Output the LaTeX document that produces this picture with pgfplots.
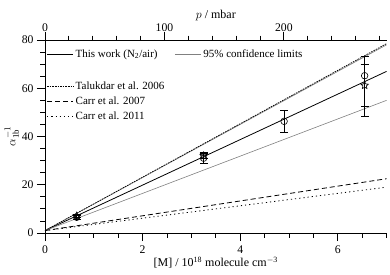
\documentclass[border=0pt]{standalone}
\usepackage{fontspec}
\setmainfont{Liberation Serif}
\usepackage{pgfplots}
\pgfplotsset{compat=1.18}
\usetikzlibrary{plotmarks}
\pgfdeclareplotmark{ostar}{%
  \pgfpathmoveto{\pgfpointpolar{90}{\pgfplotmarksize}}%
  \pgfpathlineto{\pgfpointpolar{126}{0.45\pgfplotmarksize}}%
  \pgfpathlineto{\pgfpointpolar{162}{\pgfplotmarksize}}%
  \pgfpathlineto{\pgfpointpolar{198}{0.45\pgfplotmarksize}}%
  \pgfpathlineto{\pgfpointpolar{234}{\pgfplotmarksize}}%
  \pgfpathlineto{\pgfpointpolar{270}{0.45\pgfplotmarksize}}%
  \pgfpathlineto{\pgfpointpolar{306}{\pgfplotmarksize}}%
  \pgfpathlineto{\pgfpointpolar{342}{0.45\pgfplotmarksize}}%
  \pgfpathlineto{\pgfpointpolar{18}{\pgfplotmarksize}}%
  \pgfpathlineto{\pgfpointpolar{54}{0.45\pgfplotmarksize}}%
  \pgfpathclose\pgfusepathqstroke}
\pgfplotsset{
  base/.style={
    width=341.6pt, height=193pt, scale only axis,
    xmin=0, xmax=7, ymin=0, ymax=80,
    font=\fontsize{12}{14}\selectfont,
    tick label style={font=\fontsize{11.7}{14}\selectfont},
    /pgf/number format/assume math mode=true,
    tick align=outside,
    major tick length=8pt, minor tick length=4.5pt,
    every tick/.style={black, line width=0.8pt},
    axis line style={line width=0.8pt},
    legend style={draw=none, fill=none, font=\fontsize{11}{12}\selectfont,
      anchor=north west, inner sep=0pt, outer sep=0pt},
    legend cell align=left,
    legend image code/.code={\draw[##1] (0cm,0cm) -- (0.92cm,0cm);},
  }
}
\begin{document}
\begin{tikzpicture}
\begin{axis}[base,
  axis x line*=bottom, axis y line*=left,
  xtick={0,2,4,6}, minor xtick={0.5,1,...,7},
  ytick={0,20,40,60,80}, minor ytick={5,10,...,75},
  xticklabel style={yshift=-1.5pt},
  xlabel={{[}M{]} / 10\textsuperscript{18} molecule cm\textsuperscript{$-$3}},
  ylabel={\fontsize{12.5}{14}\selectfont$\alpha_{\mathrm{1b}}^{-1}$},
  xlabel style={yshift=4pt},
  ylabel style={yshift=-4pt},
  legend columns=2,
  legend style={at={(0.005,0.962)}, /tikz/every even column/.append style={column sep=15pt}},
]
\addplot[black, line width=0.8pt] coordinates {(0,1.0) (7,67.0)};
\addlegendentry{This work (N\textsubscript{2}/air)}
\addplot[gray, line width=0.6pt] coordinates {(0,1.0) (7,78.0)};
\addlegendentry{95\% confidence limits}
\addplot[gray, line width=0.6pt, forget plot] coordinates {(0,1.0) (7,55.0)};
% circles
\addplot[black, only marks, mark=o, mark size=3.3pt, line width=0.6pt, forget plot,
  error bars/.cd, y dir=both, y explicit, error mark options={rotate=90, mark size=4pt, line width=0.8pt},
  error bar style={line width=0.8pt}]
  coordinates {
  (0.65,6.5) +- (0,0.8)
  (3.25,31.0) +- (0,2.3)
  (4.90,46.3) +- (0,4.6)
  (6.55,65.2) += (0,8.0) -= (0,16.9)
  };
% stars
\addplot[black, only marks, mark=ostar, mark size=4pt, line width=0.6pt, forget plot,
  error bars/.cd, y dir=both, y explicit, error mark options={rotate=90, mark size=4pt, line width=0.8pt},
  error bar style={line width=0.8pt}]
  coordinates {
  (0.65,7.0) +- (0,0.6)
  (3.25,32.0) +- (0,1.2)
  (6.55,61.2) +- (0,8.7)
  };
\end{axis}
\begin{axis}[base,
  axis x line*=top, axis y line=none,
  xmin=0, xmax=286,
  xtick={0,100,200}, minor xtick={20,40,...,280},
  xticklabel style={yshift=-3pt},
  xlabel={$p$ / mbar},
  xlabel style={yshift=-4pt},
]
\end{axis}
\begin{axis}[base, hide axis,
  legend style={at={(0.005,0.795)}, row sep=2pt},
]
\addplot[black, line width=0.7pt, dash pattern=on 1.6pt off 1pt] coordinates {(0,1.0) (7,78.5)};
\addlegendentry{Talukdar et al. 2006}
\addplot[black, line width=0.8pt, dash pattern=on 5pt off 3pt] coordinates {(0,1.0) (7,22.5)};
\addlegendentry{Carr et al. 2007}
\addplot[black, line width=0.8pt, dash pattern=on 1.2pt off 3pt] coordinates {(0,1.0) (7,19.0)};
\addlegendentry{Carr et al. 2011}
\end{axis}
\pgfresetboundingbox
\path[use as bounding box] (-45pt,-41pt) rectangle (345pt,233pt);
\end{tikzpicture}
\end{document}
